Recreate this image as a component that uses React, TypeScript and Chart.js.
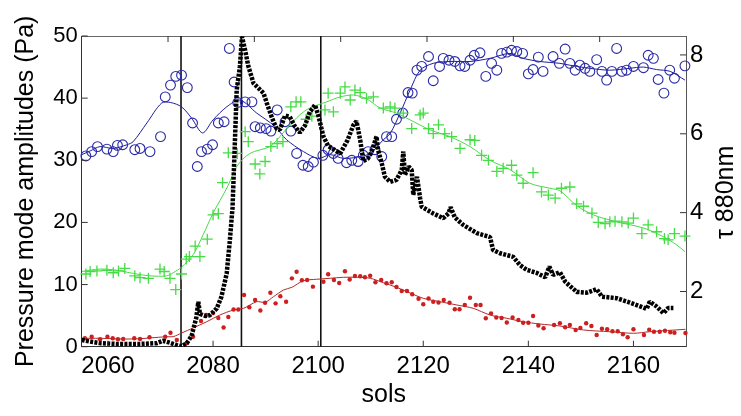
import React, { useEffect, useRef } from 'react';
import { Chart, registerables } from 'chart.js';

Chart.register(...registerables);

const FONT = '"Liberation Sans", Arial, Helvetica, sans-serif';

// ---------- axes / ticks ----------
const solTicks = [2060, 2080, 2100, 2120, 2140, 2160];
const paTicks = [0, 10, 20, 30, 40, 50];
const tauTicks = [2, 4, 6, 8];
const topTicks = [1, 2, 3, 4, 5, 6];
const eventSols = [2073.9, 2085.4, 2100.5];

// ---------- blue: open circles + smoothed line (Pa) ----------
const blueSol = [2055.8, 2056.9, 2058.0, 2059.8, 2061.0, 2061.8, 2062.8, 2065.1, 2066.1, 2068.0, 2070.0, 2070.9, 2071.9, 2072.9, 2074.0, 2075.1, 2076.1, 2077.0, 2077.8, 2078.9, 2079.9, 2081.0, 2082.1, 2083.1, 2084.0, 2084.7, 2086.1, 2087.4, 2088.0, 2089.0, 2090.1, 2091.0, 2092.2, 2093.7, 2094.8, 2095.9, 2097.1, 2098.1, 2099.1, 2100.9, 2101.9, 2102.9, 2103.8, 2105.4, 2106.4, 2107.6, 2108.6, 2109.5, 2110.8, 2112.1, 2113.0, 2114.0, 2114.9, 2116.1, 2117.1, 2117.9, 2118.8, 2119.7, 2121.0, 2121.9, 2123.1, 2123.8, 2124.9, 2126.0, 2127.0, 2127.9, 2128.9, 2129.7, 2130.8, 2131.9, 2133.0, 2134.0, 2134.9, 2135.9, 2136.8, 2137.8, 2138.9, 2140.0, 2140.9, 2141.9, 2142.8, 2144.7, 2145.9, 2147.0, 2147.9, 2148.9, 2149.8, 2150.8, 2151.7, 2153.0, 2154.0, 2154.9, 2155.9, 2156.8, 2157.8, 2158.7, 2160.0, 2161.9, 2162.8, 2163.8, 2164.7, 2165.8, 2166.9, 2167.8, 2169.8];
const bluePa = [30.7, 31.4, 32.2, 31.8, 31.4, 32.4, 32.5, 31.7, 31.9, 31.4, 33.8, 40.2, 42.1, 43.5, 43.7, 41.7, 36.0, 29.0, 31.4, 31.8, 32.5, 36.0, 36.2, 48.0, 42.6, 39.3, 39.4, 39.4, 35.4, 35.2, 35.1, 34.7, 38.1, 36.2, 34.7, 31.1, 29.2, 29.0, 29.7, 30.8, 31.7, 31.1, 30.3, 29.6, 30.0, 29.8, 30.8, 31.4, 31.7, 30.6, 33.8, 33.8, 36.6, 37.6, 40.9, 40.8, 44.5, 45.1, 46.7, 42.8, 45.1, 46.4, 46.1, 45.9, 45.2, 45.1, 46.1, 46.9, 47.3, 43.5, 45.6, 44.5, 47.2, 47.4, 47.7, 47.5, 47.2, 43.9, 44.6, 46.6, 44.3, 46.7, 45.6, 47.9, 45.6, 44.5, 45.3, 44.8, 44.3, 46.2, 44.3, 42.9, 44.3, 48.0, 44.3, 44.5, 45.1, 44.9, 46.9, 46.4, 43.0, 40.8, 44.5, 43.2, 45.2];
const blueFitSol = [2055.0, 2056.6, 2058.5, 2061.0, 2063.6, 2064.8, 2067.4, 2070.2, 2071.9, 2074.0, 2075.9, 2078.0, 2080.0, 2082.6, 2085.1, 2088.3, 2091.7, 2094.0, 2097.2, 2100.0, 2102.3, 2104.8, 2107.3, 2109.9, 2112.4, 2113.7, 2115.6, 2117.5, 2119.4, 2121.9, 2125.1, 2128.9, 2132.7, 2136.5, 2139.0, 2142.2, 2146.0, 2147.9, 2151.7, 2155.5, 2159.3, 2161.9, 2164.4, 2167.0, 2169.8];
const blueFitPa = [30.9, 31.5, 32.2, 31.9, 32.5, 33.0, 36.0, 39.2, 39.3, 38.6, 36.8, 34.4, 36.5, 38.6, 39.7, 37.6, 35.5, 33.3, 31.4, 30.3, 30.9, 30.3, 30.5, 31.1, 33.3, 34.3, 37.6, 41.3, 44.5, 45.6, 45.9, 45.9, 46.4, 47.2, 46.4, 45.9, 45.6, 45.3, 44.8, 44.5, 44.8, 45.0, 44.6, 44.3, 42.9];

// ---------- green: crosses + smoothed line (Pa) ----------
const greenSol = [2055.8, 2056.6, 2057.9, 2059.8, 2061.0, 2062.0, 2063.2, 2065.1, 2066.1, 2067.7, 2069.9, 2070.7, 2071.8, 2072.9, 2074.0, 2074.9, 2075.5, 2076.6, 2077.5, 2078.9, 2080.0, 2081.0, 2081.8, 2082.9, 2084.6, 2086.1, 2086.7, 2088.0, 2088.9, 2089.9, 2091.0, 2092.2, 2093.3, 2094.8, 2095.8, 2096.7, 2097.7, 2098.8, 2101.3, 2101.9, 2102.9, 2104.2, 2105.1, 2106.1, 2107.0, 2108.0, 2109.2, 2110.5, 2112.4, 2113.7, 2114.6, 2116.2, 2117.8, 2119.4, 2120.0, 2121.0, 2121.9, 2122.9, 2124.1, 2125.4, 2127.0, 2128.9, 2129.8, 2131.1, 2132.4, 2134.0, 2135.2, 2136.8, 2137.8, 2139.0, 2140.9, 2142.5, 2143.8, 2145.1, 2146.3, 2147.9, 2149.2, 2150.5, 2152.1, 2153.3, 2154.6, 2155.5, 2156.5, 2157.8, 2159.0, 2160.0, 2161.6, 2162.8, 2164.4, 2165.9, 2166.6, 2167.8, 2169.8];
const greenPa = [11.7, 12.1, 12.2, 12.3, 11.9, 12.2, 12.6, 11.4, 11.1, 11.0, 12.5, 12.1, 11.0, 9.2, 11.7, 14.1, 14.5, 16.2, 14.5, 17.3, 21.2, 21.4, 26.4, 31.2, 31.1, 34.6, 33.0, 29.4, 27.8, 29.8, 32.2, 32.7, 33.0, 38.6, 39.4, 39.4, 36.6, 37.1, 38.1, 40.8, 37.8, 40.8, 41.8, 39.7, 41.3, 40.9, 40.0, 40.2, 38.4, 38.6, 38.4, 37.6, 35.1, 37.3, 37.6, 35.1, 34.3, 35.7, 34.3, 33.8, 31.9, 33.3, 33.2, 30.8, 30.0, 28.2, 28.7, 29.2, 27.6, 26.3, 28.0, 24.9, 24.4, 23.9, 25.5, 25.7, 23.0, 22.6, 21.5, 20.0, 19.8, 20.1, 20.2, 20.1, 19.9, 20.7, 18.2, 19.6, 18.5, 17.4, 17.2, 18.2, 17.8];
const greenFitSol = [2055.0, 2058.5, 2061.7, 2064.8, 2068.0, 2071.2, 2072.4, 2074.0, 2076.2, 2078.1, 2080.0, 2081.7, 2082.9, 2084.5, 2087.0, 2090.8, 2092.7, 2094.3, 2096.5, 2098.4, 2101.6, 2104.2, 2106.7, 2109.2, 2111.8, 2114.9, 2117.5, 2121.3, 2125.1, 2128.9, 2132.7, 2136.5, 2140.3, 2144.1, 2146.0, 2149.2, 2152.4, 2156.8, 2161.9, 2165.7, 2168.2, 2169.8];
const greenFitPa = [12.1, 12.5, 12.3, 11.8, 11.4, 11.4, 11.9, 12.8, 14.8, 18.0, 21.5, 24.1, 26.0, 29.0, 31.1, 32.2, 33.8, 35.4, 37.3, 38.4, 39.4, 40.2, 40.5, 39.9, 38.4, 37.6, 36.5, 34.9, 33.8, 32.2, 30.0, 28.5, 26.3, 25.5, 25.1, 22.7, 21.2, 20.1, 19.1, 17.7, 16.4, 15.3];

// ---------- red: dots + smoothed line (Pa) ----------
const redSol = [2055.6, 2056.9, 2058.5, 2059.9, 2060.9, 2061.9, 2062.9, 2065.0, 2066.1, 2067.9, 2070.9, 2071.9, 2073.1, 2075.0, 2076.2, 2077.7, 2078.7, 2080.0, 2081.0, 2082.0, 2082.9, 2083.9, 2084.8, 2085.9, 2086.9, 2088.0, 2089.0, 2089.9, 2090.9, 2091.9, 2092.8, 2093.9, 2095.0, 2095.9, 2096.9, 2097.9, 2099.0, 2101.0, 2101.9, 2103.0, 2104.0, 2105.1, 2106.0, 2107.0, 2108.0, 2108.9, 2109.9, 2110.9, 2112.0, 2113.0, 2114.0, 2114.9, 2115.9, 2116.9, 2117.9, 2119.1, 2120.0, 2121.0, 2121.9, 2122.9, 2123.9, 2125.0, 2126.0, 2126.9, 2127.9, 2128.9, 2130.0, 2130.9, 2131.9, 2132.9, 2133.9, 2134.9, 2135.9, 2137.0, 2138.1, 2139.0, 2140.0, 2140.9, 2141.9, 2142.9, 2144.9, 2146.0, 2147.0, 2147.9, 2149.0, 2149.9, 2151.0, 2152.0, 2153.0, 2154.0, 2155.0, 2156.0, 2157.0, 2158.0, 2158.9, 2160.0, 2162.0, 2163.0, 2163.9, 2165.0, 2166.0, 2167.0, 2167.8, 2169.9];
const redPa = [1.35, 1.61, 1.19, 1.61, 1.35, 1.19, 1.24, 1.35, 1.24, 1.51, 1.61, 2.25, 1.08, 0.60, 1.61, 4.14, 5.10, 5.42, 4.62, 3.09, 4.78, 5.99, 5.99, 8.32, 6.34, 7.52, 5.83, 7.08, 8.69, 6.98, 8.11, 7.24, 11.0, 12.07, 10.69, 10.73, 9.66, 10.46, 11.67, 10.73, 10.25, 12.13, 10.81, 11.38, 11.33, 11.17, 11.41, 10.38, 10.73, 10.20, 10.36, 9.61, 8.96, 8.96, 8.45, 7.72, 6.82, 7.76, 7.24, 7.11, 7.52, 7.08, 6.02, 6.02, 6.71, 7.87, 6.71, 6.71, 4.57, 5.37, 4.70, 4.62, 3.89, 4.70, 4.30, 3.86, 3.86, 4.94, 3.41, 2.96, 3.49, 3.77, 3.12, 3.49, 2.69, 3.01, 3.77, 3.33, 1.88, 2.90, 2.80, 2.49, 2.49, 2.01, 1.51, 2.80, 1.88, 2.74, 2.41, 2.41, 2.56, 2.33, 2.25, 2.20];
const redFitSol = [2055.0, 2058.5, 2064.8, 2071.2, 2072.4, 2074.0, 2076.2, 2078.8, 2081.3, 2083.9, 2085.8, 2088.3, 2089.9, 2091.5, 2093.4, 2095.0, 2097.2, 2099.7, 2102.3, 2104.8, 2107.3, 2109.9, 2112.4, 2114.9, 2116.9, 2120.0, 2123.2, 2126.4, 2129.5, 2132.7, 2135.9, 2139.0, 2142.2, 2146.0, 2150.5, 2155.5, 2160.0, 2163.1, 2169.9];
const redFitPa = [1.35, 1.35, 1.24, 1.61, 1.61, 2.20, 3.01, 4.02, 5.10, 5.91, 6.18, 7.24, 7.15, 8.05, 9.12, 9.56, 10.62, 10.85, 11.01, 11.17, 11.17, 11.01, 10.30, 9.56, 8.85, 7.79, 7.24, 6.71, 6.18, 5.10, 4.57, 4.02, 3.65, 3.33, 2.69, 2.41, 2.16, 2.41, 2.80];

// ---------- black dotted: tau 880 nm (right axis) ----------
const tauSol = [2055.0, 2056.6, 2058.5, 2061.7, 2066.1, 2069.3, 2070.5, 2071.8, 2073.1, 2074.0, 2075.0, 2075.9, 2076.8, 2077.2, 2077.5, 2078.5, 2079.4, 2080.7, 2081.6, 2082.6, 2083.2, 2083.7, 2084.1, 2084.5, 2085.1, 2085.5, 2086.1, 2086.7, 2087.7, 2088.4, 2089.6, 2090.2, 2091.2, 2092.1, 2092.7, 2093.7, 2094.6, 2095.6, 2096.5, 2097.5, 2098.4, 2099.4, 2100.0, 2101.0, 2101.9, 2102.9, 2104.2, 2105.6, 2106.7, 2107.3, 2108.0, 2108.6, 2109.5, 2110.2, 2111.1, 2111.4, 2112.1, 2112.7, 2113.7, 2114.9, 2115.9, 2116.2, 2116.5, 2117.2, 2117.8, 2118.1, 2118.8, 2119.4, 2119.7, 2121.9, 2123.8, 2124.8, 2125.2, 2126.0, 2127.6, 2130.2, 2132.7, 2133.3, 2134.6, 2137.1, 2138.4, 2139.7, 2141.6, 2143.2, 2144.0, 2144.7, 2146.0, 2147.0, 2149.2, 2151.1, 2153.0, 2154.0, 2156.8, 2159.3, 2162.5, 2163.1, 2164.4, 2165.7, 2166.6, 2167.6];
const tauVal = [0.77, 0.73, 0.69, 0.67, 0.67, 0.69, 0.75, 0.70, 0.64, 0.61, 0.69, 0.87, 1.33, 1.74, 1.43, 1.38, 1.40, 1.57, 1.87, 2.46, 3.31, 4.12, 5.59, 7.11, 7.70, 8.46, 8.12, 7.72, 7.28, 7.19, 7.03, 6.79, 6.41, 6.13, 6.10, 6.46, 6.43, 6.18, 6.03, 6.21, 6.55, 6.73, 6.48, 5.93, 5.69, 5.61, 5.50, 5.84, 6.22, 6.32, 5.84, 5.31, 5.38, 5.55, 5.93, 5.59, 5.25, 4.91, 4.78, 4.83, 5.08, 5.55, 4.95, 5.17, 5.08, 4.45, 4.91, 4.37, 4.15, 3.98, 3.86, 3.98, 4.14, 3.88, 3.69, 3.48, 3.38, 3.05, 2.97, 2.88, 2.67, 2.55, 2.47, 2.36, 2.63, 2.42, 2.49, 2.25, 1.99, 1.97, 2.06, 1.87, 1.83, 1.72, 1.56, 1.74, 1.62, 1.45, 1.58, 1.58];

const pts = (xs: number[], ys: number[]) => xs.map((x, i) => ({ x, y: ys[i] }));

const BLUE = '#2a2aa8';
const BLUE_LINE = '#1e1e9c';
const GREEN = '#45dc45';
const GREEN_LINE = '#4cd84c';
const RED = '#cc1f1f';
const RED_LINE = '#b22a2a';

const decorPlugin = {
  id: 'decor',
  afterDraw(chart: any) {
    const { ctx, chartArea: a, scales } = chart;
    const L = 6;
    ctx.save();
    ctx.strokeStyle = '#333';
    ctx.lineWidth = 1;
    ctx.beginPath();
    for (const v of solTicks) {
      const px = scales.x.getPixelForValue(v);
      ctx.moveTo(px, a.bottom);
      ctx.lineTo(px, a.bottom - L);
    }
    for (const v of topTicks) {
      const px = scales.xTop.getPixelForValue(v);
      ctx.moveTo(px, a.top);
      ctx.lineTo(px, a.top + L);
    }
    for (const v of paTicks) {
      const py = scales.y.getPixelForValue(v);
      ctx.moveTo(a.left, py);
      ctx.lineTo(a.left + L, py);
    }
    for (const v of tauTicks) {
      const py = scales.y2.getPixelForValue(v);
      ctx.moveTo(a.right, py);
      ctx.lineTo(a.right - L, py);
    }
    ctx.stroke();
    // right axis title, reading bottom-to-top
    ctx.fillStyle = '#000';
    ctx.font = `25px ${FONT}`;
    ctx.textAlign = 'center';
    ctx.textBaseline = 'alphabetic';
    ctx.translate(a.right + 47, (a.top + a.bottom) / 2 + 1);
    ctx.rotate(-Math.PI / 2);
    ctx.fillText('τ 880nm', 0, 0);
    ctx.restore();
  },
};

export default function App() {
  const ref = useRef<HTMLCanvasElement | null>(null);

  useEffect(() => {
    if (!ref.current) return;
    const pointBase = { showLine: false, clip: false as any, yAxisID: 'y' };
    const lineBase = { pointRadius: 0, borderWidth: 1, fill: false, tension: 0.3, yAxisID: 'y' };

    const datasets: any[] = [
      {
        label: 'tau',
        data: pts(tauSol, tauVal),
        yAxisID: 'y2',
        borderColor: '#000',
        borderWidth: 4.5,
        borderDash: [3, 1.3],
        borderCapStyle: 'butt',
        borderJoinStyle: 'bevel',
        pointRadius: 0,
        tension: 0,
        fill: false,
      },
      {
        ...pointBase,
        label: 'red pts',
        data: pts(redSol, redPa),
        pointRadius: 2.2,
        pointBackgroundColor: RED,
        pointBorderColor: RED,
        pointBorderWidth: 0,
      },
      { ...lineBase, label: 'red fit', data: pts(redFitSol, redFitPa), borderColor: RED_LINE },
      {
        ...pointBase,
        label: 'green pts',
        data: pts(greenSol, greenPa),
        pointStyle: 'cross',
        pointRadius: 5.5,
        pointBorderColor: GREEN,
        pointBorderWidth: 1.3,
      },
      { ...lineBase, label: 'green fit', data: pts(greenFitSol, greenFitPa), borderColor: GREEN_LINE },
      {
        ...pointBase,
        label: 'blue pts',
        data: pts(blueSol, bluePa),
        pointStyle: 'circle',
        pointRadius: 4.9,
        pointBackgroundColor: 'rgba(0,0,0,0)',
        pointBorderColor: BLUE,
        pointBorderWidth: 1.1,
      },
      { ...lineBase, label: 'blue fit', data: pts(blueFitSol, blueFitPa), borderColor: BLUE_LINE },
      ...eventSols.map((s) => ({
        label: 'event',
        data: [
          { x: s, y: 0 },
          { x: s, y: 50 },
        ],
        yAxisID: 'y',
        borderColor: '#111',
        borderWidth: 1.6,
        pointRadius: 0,
        fill: false,
      })),
    ];

    const tickFont = (size: number) => ({ family: FONT, size });
    const plain = (v: any) => String(v);

    const chart = new Chart(ref.current, {
      type: 'line',
      data: { datasets },
      plugins: [decorPlugin],
      options: {
        animation: false,
        responsive: true,
        maintainAspectRatio: false,
        layout: { padding: 0 },
        plugins: { legend: { display: false }, tooltip: { enabled: false } },
        scales: {
          x: {
            type: 'linear',
            position: 'bottom',
            min: 2055,
            max: 2170,
            afterBuildTicks: (s: any) => {
              s.ticks = solTicks.map((v) => ({ value: v }));
            },
            afterFit: (s: any) => {
              s.height = 69.3;
            },
            ticks: { font: tickFont(24), color: '#000', padding: 5, maxRotation: 0, autoSkip: false, callback: plain },
            grid: { display: true, drawOnChartArea: false, drawTicks: false },
            border: { display: true, color: '#333', width: 1 },
            title: {
              display: true,
              text: 'sols',
              font: { family: FONT, size: 25 },
              color: '#000',
              padding: { top: 0, bottom: 6 },
            },
          },
          xTop: {
            type: 'linear',
            position: 'top',
            min: 0,
            max: 7,
            afterFit: (s: any) => {
              s.height = 36;
            },
            ticks: { display: false },
            grid: { display: true, drawOnChartArea: false, drawTicks: false },
            border: { display: true, color: '#666', width: 1 },
          },
          y: {
            type: 'linear',
            position: 'left',
            min: 0,
            max: 50,
            afterBuildTicks: (s: any) => {
              s.ticks = paTicks.map((v) => ({ value: v }));
            },
            afterFit: (s: any) => {
              s.width = 81.7;
            },
            ticks: { font: tickFont(22), color: '#000', padding: 4, callback: plain },
            grid: { display: true, drawOnChartArea: false, drawTicks: false },
            border: { display: true, color: '#333', width: 1 },
            title: {
              display: true,
              text: 'Pressure mode amplitudes (Pa)',
              font: { family: FONT, size: 25 },
              color: '#000',
              padding: { top: 11, bottom: 0 },
            },
          },
          y2: {
            type: 'linear',
            position: 'right',
            min: 0.6,
            max: 8.48,
            afterBuildTicks: (s: any) => {
              s.ticks = tauTicks.map((v) => ({ value: v }));
            },
            afterFit: (s: any) => {
              s.width = 55;
            },
            ticks: { font: tickFont(24), color: '#000', padding: 4, callback: plain },
            grid: { display: true, drawOnChartArea: false, drawTicks: false },
            border: { display: true, color: '#555', width: 1 },
          },
        },
      } as any,
    });
    return () => chart.destroy();
  }, []);

  return (
    <div style={{ position: 'fixed', left: 0, top: 0, width: 741, height: 416, background: '#fff' }}>
      <canvas ref={ref} />
    </div>
  );
}
